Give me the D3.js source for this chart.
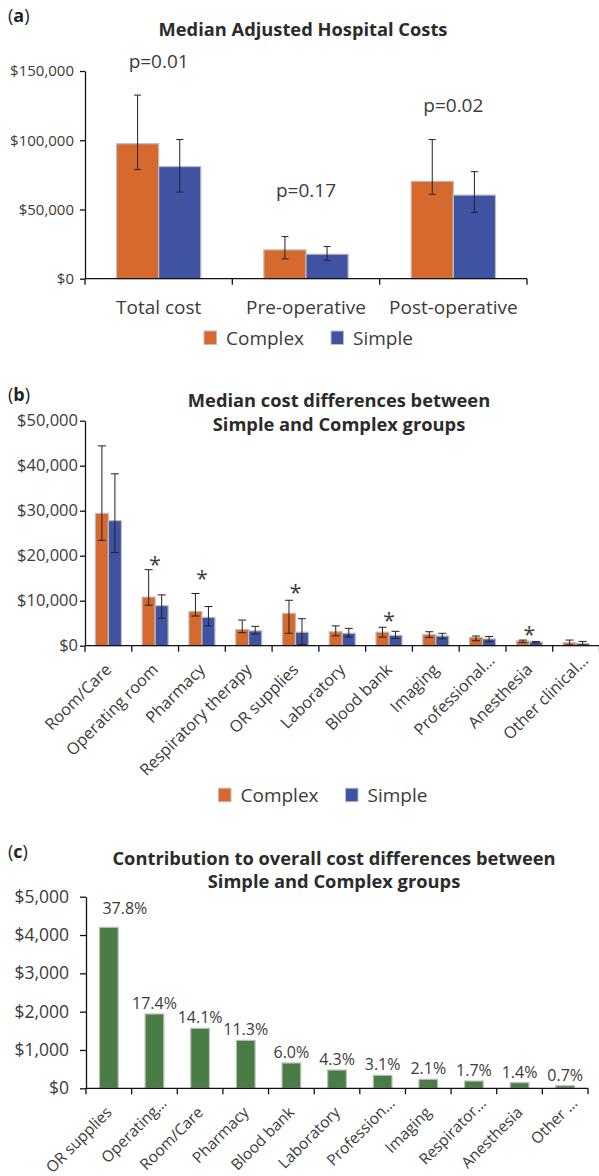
<!DOCTYPE html>
<html><head><meta charset="utf-8">
<script src="https://cdn.jsdelivr.net/npm/d3@7"></script>
<style>
body{margin:0;background:#fff;}
svg{display:block;font-family:"Open Sans",sans-serif;}
</style></head>
<body><svg id="c" width="599" height="1176"></svg>
<script>
// ---------- Panel (a) data ----------
const catsA = ["Total cost","Pre-operative","Post-operative"];
const seriesNames = ["Complex","Simple"];
const complexA = [97500, 20800, 70300];
const complexALo = [78800, 14300, 60900];
const complexAHi = [132600, 30400, 100500];
const simpleA = [81000, 17700, 60400];
const simpleALo = [62600, 13300, 47800];
const simpleAHi = [100500, 23200, 77300];
const pLabelsA = ["p=0.01","p=0.17","p=0.02"];
const pLabelAtA = [152500, 59000, 120600];
const ticksA = [0, 50000, 100000, 150000];

// ---------- Panel (b) data ----------
const catsB = ["Room/Care","Operating room","Pharmacy","Respiratory therapy","OR supplies","Laboratory","Blood bank","Imaging","Professional…","Anesthesia","Other clinical…"];
const complexB = [29400,10800,7600,3600,7200,3100,3000,2450,1850,1050,650];
const complexBLo = [23400,9000,6600,2900,2750,2200,1900,1850,1100,750,150];
const complexBHi = [44400,16900,11600,5700,10100,4400,4100,3100,2150,1250,1250];
const simpleB = [27800,8900,6300,3300,3000,2750,2300,2150,1500,800,500];
const simpleBLo = [20700,6100,4400,2600,300,1950,1600,1550,900,650,100];
const simpleBHi = [38200,11300,8700,4300,6000,3850,3200,2750,2050,950,950];
const starAtB = [null,19000,15900,null,12800,null,6400,null,null,3300,null];
const ticksB = [0,10000,20000,30000,40000,50000];

// ---------- Panel (c) data ----------
const catsC = ["OR supplies","Operating…","Room/Care","Pharmacy","Blood bank","Laboratory","Profession…","Imaging","Respirator…","Anesthesia","Other …"];
const valuesC = [4200,1940,1565,1252,660,477,339,235,190,146,68];
const pctC = ["37.8%","17.4%","14.1%","11.3%","6.0%","4.3%","3.1%","2.1%","1.7%","1.4%","0.7%"];
const ticksC = [0,1000,2000,3000,4000,5000];

// ---------- styles ----------
const COL = {Complex:"#D6692E", Simple:"#3F53A2", green:"#4A7D45", edge:"#BDBDBD", text:"#3B3B3B", title:"#2B2B2B", axis:"#111", err:"#222"};
const money = d => "$" + d3.format(",")(d);
const svg = d3.select("#c");

function panelLabel(x, y, letter){
  const t = svg.append("text").attr("x",x).attr("y",y).attr("font-size",18).attr("fill","#222");
  t.append("tspan").text("(");
  t.append("tspan").attr("font-weight","bold").text(letter);
  t.append("tspan").text(")");
}
function title(lines, cx, y0, lh){
  const t = svg.append("text").attr("x",cx).attr("y",y0)
    .attr("text-anchor","middle").attr("font-weight","bold").attr("font-size",18.3)
    .attr("fill",COL.title);
  lines.forEach((l,i)=> t.append("tspan").attr("x",cx).attr("dy", i===0 ? 0 : lh).text(l));
}
function yAxis(y, x0, ticks, fs, pad, tickLen){
  const g = svg.append("g").attr("transform",`translate(${x0},0)`)
    .call(d3.axisLeft(y).tickValues(ticks).tickFormat(money).tickSize(tickLen).tickSizeOuter(0).tickPadding(pad));
  g.select(".domain").attr("stroke",COL.axis).attr("stroke-width",1.3);
  g.selectAll(".tick line").attr("stroke",COL.axis).attr("stroke-width",1.3);
  g.selectAll(".tick text").attr("font-size",fs).attr("fill",COL.text).attr("font-family","Open Sans");
}
function xAxisLine(x, y0, tickLen){
  const [a,b] = x.range();
  svg.append("line").attr("x1",a).attr("x2",b).attr("y1",y0).attr("y2",y0).attr("stroke",COL.axis).attr("stroke-width",1.3);
  const pos = x.domain().map(d=>x(d)).concat([b]);
  svg.selectAll(null).data(pos).join("line").attr("x1",d=>d).attr("x2",d=>d)
    .attr("y1",y0).attr("y2",y0+tickLen).attr("stroke",COL.axis).attr("stroke-width",1.3);
}
function errBars(data, cap){
  const g = svg.append("g").attr("stroke",COL.err).attr("stroke-width",1);
  data.forEach(d=>{
    g.append("line").attr("x1",d.x).attr("x2",d.x).attr("y1",d.lo).attr("y2",d.hi);
    g.append("line").attr("x1",d.x-cap/2).attr("x2",d.x+cap/2).attr("y1",d.lo).attr("y2",d.lo);
    g.append("line").attr("x1",d.x-cap/2).attr("x2",d.x+cap/2).attr("y1",d.hi).attr("y2",d.hi);
  });
}
function legend(x0, y0, fs, gap){
  let x = x0;
  seriesNames.forEach(s=>{
    svg.append("rect").attr("x",x).attr("y",y0-13.5).attr("width",12.5).attr("height",13.5)
      .attr("fill",COL[s]).attr("stroke",COL.edge).attr("stroke-width",1);
    const t = svg.append("text").attr("x",x+22).attr("y",y0).attr("font-size",fs).attr("fill",COL.text).text(s);
    x += 22 + t.node().getComputedTextLength() + gap;
  });
}
function groupedBars(cats, x, y, comp, compLo, compHi, simp, simpLo, simpHi, inset, cap){
  const x1 = d3.scaleBand().domain(seriesNames).range([x.bandwidth()*inset, x.bandwidth()*(1-inset)]);
  const rows = cats.map((c,i)=>({c, Complex:comp[i], Simple:simp[i],
    lo:{Complex:compLo[i], Simple:simpLo[i]}, hi:{Complex:compHi[i], Simple:simpHi[i]}}));
  const errs = [];
  rows.forEach(r=>{
    seriesNames.forEach(s=>{
      const bx = x(r.c)+x1(s);
      svg.append("rect").attr("x",bx).attr("y",y(r[s])).attr("width",x1.bandwidth())
        .attr("height",y(0)-y(r[s])).attr("fill",COL[s]).attr("stroke",COL.edge).attr("stroke-width",1.2);
      errs.push({x:bx+x1.bandwidth()/2, lo:y(r.lo[s]), hi:y(r.hi[s])});
    });
  });
  errBars(errs, cap);
}
function rotatedLabels(x, cats, y0, fs, dx, dy){
  svg.append("g").selectAll("text").data(cats).join("text")
    .attr("transform",d=>`translate(${x(d)+x.bandwidth()/2+dx},${y0+dy}) rotate(-45)`)
    .attr("dx", d=> d.endsWith("…") ? 13 : 0)
    .attr("text-anchor","end").attr("font-size",fs).attr("fill",COL.text).text(d=>d);
}

// ================= Panel (a) =================
panelLabel(8, 22, "a");
title(["Median Adjusted Hospital Costs"], 303, 36, 0);
const xA = d3.scaleBand().domain(catsA).range([85, 527]);
const yA = d3.scaleLinear().domain([0,150000]).range([278.7, 71]);
groupedBars(catsA, xA, yA, complexA, complexALo, complexAHi, simpleA, simpleALo, simpleAHi, 0.214, 7);
yAxis(yA, 85, ticksA, 15, 6, 5);
xAxisLine(xA, yA(0), 6);
svg.append("g").selectAll("text").data(catsA).join("text")
  .attr("x",d=>xA(d)+xA.bandwidth()/2).attr("y",313.5).attr("text-anchor","middle")
  .attr("font-size",19).attr("fill",COL.text).text(d=>d);
svg.append("g").selectAll("text").data(catsA).join("text")
  .attr("x",d=>xA(d)+xA.bandwidth()/2).attr("y",(d,i)=>yA(pLabelAtA[i])).attr("text-anchor","middle")
  .attr("font-size",19).attr("fill",COL.text).text((d,i)=>pLabelsA[i]);
legend(204, 344.5, 19, 27);

// ================= Panel (b) =================
panelLabel(8, 401, "b");
title(["Median cost differences between","Simple and Complex groups"], 339, 407, 23.5);
const xB = d3.scaleBand().domain(catsB).range([85, 599.5]);
const yB = d3.scaleLinear().domain([0,50000]).range([645.7, 420.7]);
groupedBars(catsB, xB, yB, complexB, complexBLo, complexBHi, simpleB, simpleBLo, simpleBHi, 0.222, 8);
yAxis(yB, 85, ticksB, 16.5, 2, 5);
xAxisLine(xB, yB(0), 6);
rotatedLabels(xB, catsB, yB(0), 16.3, 4, 25);
svg.append("g").selectAll("text").data(catsB.filter((d,i)=>starAtB[i]!==null)).join("text")
  .attr("x",d=>xB(d)+xB.bandwidth()/2)
  .attr("y",d=>yB(starAtB[catsB.indexOf(d)]) + 11.5)
  .attr("text-anchor","middle").attr("font-size",21).attr("fill",COL.text).text("*");
legend(218.5, 801.7, 19, 27);

// ================= Panel (c) =================
panelLabel(8, 858, "c");
title(["Contribution to overall cost differences between","Simple and Complex groups"], 334, 864.5, 23.5);
const xC = d3.scaleBand().domain(catsC).range([86, 588]);
const yC = d3.scaleLinear().domain([0,5000]).range([1088.3, 896.7]);
const bwC = xC.bandwidth()*0.41;
svg.append("g").selectAll("rect").data(catsC).join("rect")
  .attr("x",d=>xC(d)+xC.bandwidth()/2-bwC/2).attr("width",bwC)
  .attr("y",(d,i)=>yC(valuesC[i])).attr("height",(d,i)=>yC(0)-yC(valuesC[i]))
  .attr("fill",COL.green).attr("stroke",COL.edge).attr("stroke-width",1.2);
yAxis(yC, 86, ticksC, 17.5, 11, 6);
xAxisLine(xC, yC(0), 6);
rotatedLabels(xC, catsC, yC(0), 15.5, 4, 25);
const nudge = {"OR supplies":[16,-8]};
svg.append("g").selectAll("text").data(catsC).join("text")
  .attr("x",d=>xC(d)+xC.bandwidth()/2 + (nudge[d]?nudge[d][0]:0))
  .attr("y",(d,i)=>yC(valuesC[i]) - 5 + (nudge[d]?nudge[d][1]:0))
  .attr("text-anchor","middle").attr("font-size",16).attr("fill",COL.text).text((d,i)=>pctC[i]);
</script></body></html>
